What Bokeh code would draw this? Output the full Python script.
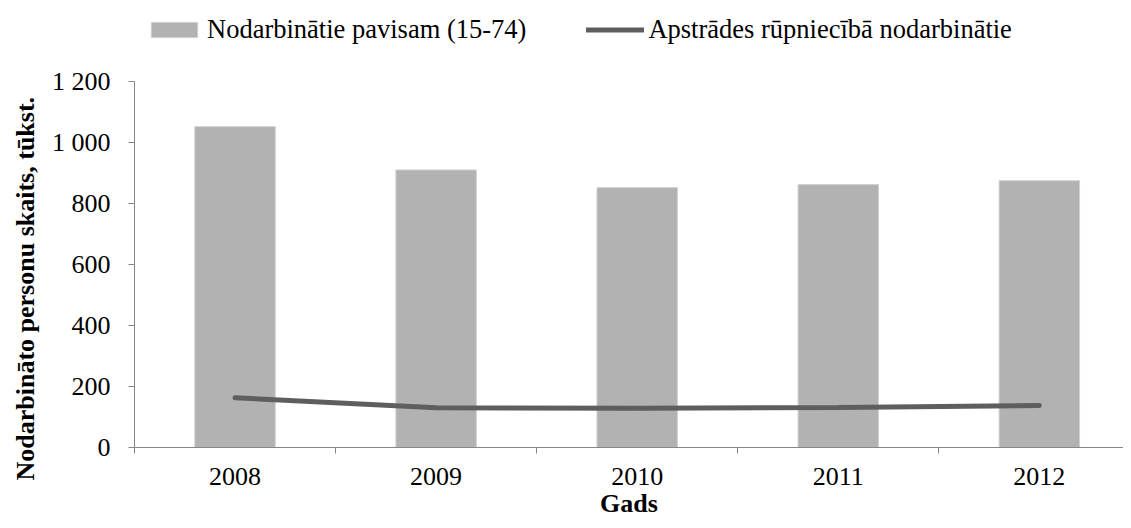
from bokeh.plotting import figure
from bokeh.models import Range1d, FixedTicker, Legend, LegendItem, ColumnDataSource, Title
from bokeh.embed import file_html
from bokeh.resources import INLINE

years = ["2008", "2009", "2010", "2011", "2012"]
employed_total = [1052, 910, 852, 862, 875]
manufacturing = [163, 130, 129, 131, 138]
y_ticks = [0, 200, 400, 600, 800, 1000, 1200]
y_tick_labels = ["0", "200", "400", "600", "800", "1 000", "1 200"]

FONT = "Liberation Serif"
FS = "26px"
xs = list(range(len(years)))
src = ColumnDataSource(dict(x=xs, total=employed_total, manu=manufacturing))

# frame spans whole height above the axis; the y axis is bounded to 0..1200
W, H = 1123, 520
LEFT, BOTTOM = 127, 73
frame_h = H - BOTTOM
y_max = 1200 * frame_h / 366
x_end = -0.5 + (W - LEFT) / 202.5
p = figure(width=W, height=H, output_backend="svg", toolbar_location=None,
           x_range=Range1d(-0.5, x_end), y_range=Range1d(0, y_max),
           min_border_left=LEFT, min_border_right=0, min_border_top=0, min_border_bottom=BOTTOM)
p.outline_line_color = None
p.grid.visible = False

bars = p.vbar(x="x", top="total", width=0.4, source=src, fill_color="#b2b2b2",
              line_color="#d0d0d0", line_width=1)
line = p.line(x="x", y="manu", source=src, line_color="#5e5e5e", line_width=5, line_cap="round")

xa = p.xaxis[0]
xa.ticker = FixedTicker(ticks=xs, minor_ticks=[i - 0.5 for i in range(len(years) + 1)])
xa.major_label_overrides = {i: y for i, y in zip(xs, years)}
xa.major_tick_in = 0
xa.major_tick_out = 0
xa.minor_tick_in = 0
xa.minor_tick_out = 6
xa.minor_tick_line_color = "#868686"
xa.axis_line_color = "#868686"
xa.major_label_text_font = FONT
xa.major_label_text_font_size = FS
xa.major_label_text_color = "black"
xa.major_label_standoff = 14
xa.axis_label = "Gads"
xa.axis_label_text_font = FONT
xa.axis_label_text_font_size = FS
xa.axis_label_text_font_style = "bold"
xa.axis_label_text_color = "black"
xa.axis_label_standoff = 1

ya = p.yaxis[0]
ya.bounds = (0, 1200)
ya.ticker = FixedTicker(ticks=y_ticks, minor_ticks=[])
ya.major_label_overrides = {t: l for t, l in zip(y_ticks, y_tick_labels)}
ya.major_tick_in = 0
ya.major_tick_out = 6
ya.major_tick_line_color = "#868686"
ya.axis_line_color = "#868686"
ya.minor_tick_line_color = None
ya.major_label_text_font = FONT
ya.major_label_text_font_size = FS
ya.major_label_text_color = "black"
ya.major_label_standoff = 18

ytitle = Title(text="Nodarbināto personu skaits, tūkst.", align="left", offset=-33,
               text_font=FONT, text_font_size="26px", text_font_style="bold",
               text_color="black", standoff=17)
p.add_layout(ytitle, "left")

legend = Legend(items=[LegendItem(label="Nodarbinātie pavisam (15-74)", renderers=[bars]),
                       LegendItem(label="Apstrādes rūpniecībā nodarbinātie", renderers=[line])],
                orientation="horizontal", location=(11, frame_h - 45),
                label_text_font=FONT, label_text_font_size="26.5px", label_text_color="black",
                glyph_width=58, glyph_height=19, label_standoff=4, spacing=60,
                padding=0, margin=0, border_line_color=None, background_fill_alpha=0)
p.add_layout(legend, "center")

open("out.html", "w").write(file_html(p, INLINE))
